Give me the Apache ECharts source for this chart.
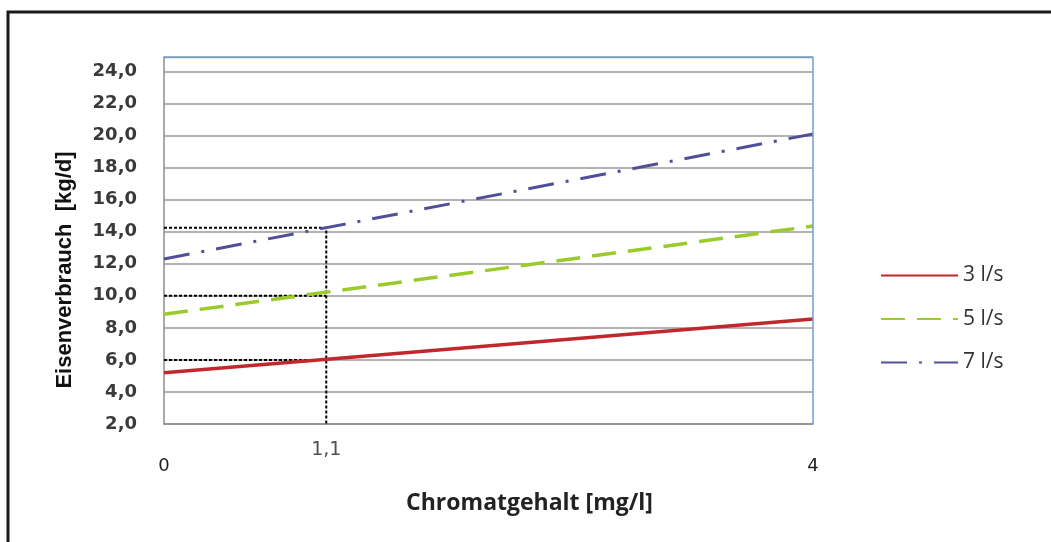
<!DOCTYPE html>
<html>
<head>
<meta charset="utf-8">
<script src="https://cdn.jsdelivr.net/npm/echarts@6/dist/echarts.min.js"></script>
<style>html,body{margin:0;padding:0;background:#fff}#c{width:1051px;height:542px}</style>
</head>
<body>
<div id="c"></div>
<script>
// Data
const xValues = [0, 4];
const flow3 = [5.2, 8.55];
const flow5 = [8.85, 14.35];
const flow7 = [12.3, 20.1];
const seriesNames = ['3 l/s', '5 l/s', '7 l/s'];
const readXPos = 1.0;          // where the reading line sits on the drawn axis
const readLevels = [6.0, 10.0, 14.25];
const xTickLabel = '1,1';

const pairs = arr => xValues.map((x, i) => [x, arr[i]]);
const dotted = { color: '#000', width: 2, type: [3, 2] };

const chart = echarts.init(document.getElementById('c'), null, { renderer: 'canvas' });
const fmt = v => (Math.abs(v / 2 - Math.round(v / 2)) < 1e-9) ? v.toFixed(1).replace('.', ',') : '';

const helperSeries = readLevels.map((lv, i) => ({
  type: 'line', name: 'h' + i, silent: true, symbol: 'none', z: 1,
  lineStyle: dotted,
  data: i === readLevels.length - 1 ? [[0, lv], [readXPos, lv], [readXPos, 2]] : [[0, lv], [readXPos, lv]]
}));
helperSeries.push({
  type: 'scatter', name: 'lbl', silent: true, symbolSize: 1, itemStyle: { color: 'rgba(0,0,0,0)' },
  label: { show: true, position: 'bottom', distance: 16, formatter: xTickLabel,
    fontFamily: 'DejaVu Sans', fontSize: 19, fontWeight: 'normal', color: '#222' },
  labelLayout: { hideOverlap: false },
  data: [[readXPos, 2]]
});

chart.setOption({
  animation: false,
  grid: { left: 164, right: 238, top: 57, bottom: 118, containLabel: false },
  legend: {
    orient: 'vertical', left: 875, top: 260, itemWidth: 77, itemHeight: 22, itemGap: 22.5,
    data: seriesNames,
    itemStyle: { opacity: 0 },
    textStyle: { fontFamily: 'Open Sans', fontSize: 21, color: '#333' }
  },
  xAxis: {
    type: 'value', min: 0, max: 4, interval: 4,
    name: 'Chromatgehalt [mg/l]', nameLocation: 'middle', nameGap: 68,
    nameTextStyle: { fontFamily: 'Open Sans', fontWeight: 'bold', fontSize: 23, color: '#222', padding: [0, 0, 0, 82] },
    axisLine: { show: true, lineStyle: { color: '#8c8c8c', width: 1.5 } },
    axisTick: { show: false },
    splitLine: { show: false },
    axisLabel: { margin: 33, fontFamily: 'DejaVu Sans', fontSize: 18, color: '#222', formatter: v => String(v) }
  },
  yAxis: {
    type: 'value', min: 2, max: 24.9, interval: 2,
    axisLine: { show: true, lineStyle: { color: '#8c8c8c', width: 1.5 } },
    axisTick: { show: false },
    splitLine: { show: true, lineStyle: { color: '#9a9a9a', width: 1.5 } },
    axisLabel: { margin: 27, fontFamily: 'DejaVu Sans', fontWeight: 'bold', fontSize: 18, color: '#3a3a3a', formatter: fmt,
      showMaxLabel: false }
  },
  graphic: [
    { type: 'rect', shape: { x: 8, y: 12, width: 1100, height: 600 }, style: { fill: null, stroke: '#1a1a1a', lineWidth: 3 }, z: 100 },
    { type: 'polyline', shape: { points: [[164, 57.5], [813, 57.5], [813, 424]] }, style: { fill: null, stroke: '#6f9fd8', lineWidth: 1.5 }, z: 100 },
    { type: 'text', x: 65, y: 270, rotation: Math.PI / 2,
      style: { text: 'Eisenverbrauch  [kg/d]', fontFamily: 'Liberation Sans', fontWeight: 'bold', fontSize: 22, fill: '#111',
        textAlign: 'center', textVerticalAlign: 'middle' }, z: 100 }
  ],
  series: [
    { type: 'line', name: seriesNames[0], symbol: 'none', z: 5, color: '#c0282d',
      lineStyle: { color: '#c0282d', width: 3.5, type: 'solid' }, data: pairs(flow3) },
    { type: 'line', name: seriesNames[1], symbol: 'none', z: 5, color: '#9bcb2a',
      lineStyle: { color: '#9bcb2a', width: 3.5, type: [24, 12] }, data: pairs(flow5) },
    { type: 'line', name: seriesNames[2], symbol: 'none', z: 5, color: '#50509a',
      lineStyle: { color: '#50509a', width: 3, type: [26, 12, 3, 12] }, data: pairs(flow7) }
  ].concat(helperSeries)
});
</script>
</body>
</html>
